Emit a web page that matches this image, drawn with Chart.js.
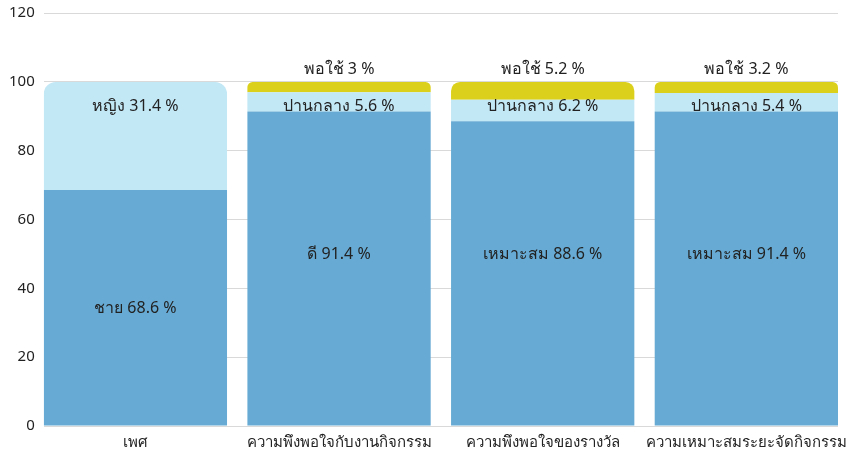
<!DOCTYPE html>
<html>
<head>
<meta charset="utf-8">
<script src="https://cdn.jsdelivr.net/npm/chart.js@4/dist/chart.umd.min.js"></script>
<style>
  html, body { margin: 0; padding: 0; background: #ffffff; }
  #wrap { width: 851px; height: 454px; }
</style>
</head>
<body>
<div id="wrap"><canvas id="canvas1"></canvas></div>
<script>
// Categories and series (percent)
const categories = ['เพศ', 'ความพึงพอใจกับงานกิจกรรม', 'ความพึงพอใจของรางวัล', 'ความเหมาะสมระยะจัดกิจกรรม']
const mainValues = [68.6, 91.4, 88.6, 91.4]
const middleValues = [31.4, 5.6, 6.2, 5.4]
const fairValues = [0, 3, 5.2, 3.2]
const mainNames = ['ชาย', 'ดี', 'เหมาะสม', 'เหมาะสม']
const middleNames = ['หญิง', 'ปานกลาง', 'ปานกลาง', 'ปานกลาง']
const fairNames = ['', 'พอใช้', 'พอใช้', 'พอใช้']
const yTicks = [0, 20, 40, 60, 80, 100, 120]

const fontFamily = "'Liberation Sans Narrow', 'Arial Narrow', 'Noto Sans', sans-serif"

function toPoints(values) {
    return values.map((v, i) => ({ x: i, y: v }))
}

// Draw the value labels inside / above each stack
const segmentLabels = {
    id: 'segmentLabels',
    afterDatasetsDraw(chart) {
        const ctx = chart.ctx
        const yScale = chart.scales.y
        ctx.save()
        ctx.font = '16px ' + fontFamily
        ctx.fillStyle = '#222222'
        ctx.textAlign = 'center'
        ctx.textBaseline = 'middle'
        categories.forEach((c, i) => {
            const total = mainValues[i] + middleValues[i] + fairValues[i]
            const x = chart.getDatasetMeta(0).data[i].x
            // main segment: middle of the stack when it fills most of it
            const mid = mainValues[i] > 80 ? total / 2 : mainValues[i] / 2
            let y = yScale.getPixelForValue(mid)
            ctx.fillText(mainNames[i] + ' ' + mainValues[i] + ' %', x, y)
            // middle segment
            y = yScale.getPixelForValue(total - 7)
            ctx.fillText(middleNames[i] + ' ' + middleValues[i] + ' %', x, y)
            // fair, above the bar
            if (fairValues[i] > 0) {
                y = yScale.getPixelForValue(total) - 13
                ctx.fillText(fairNames[i] + ' ' + fairValues[i] + ' %', x, y)
            }
        })
        ctx.restore()
    }
}

const common = {
    barPercentage: 0.9,
    categoryPercentage: 1,
    borderWidth: 0,
    borderRadius: 12
}

const config = {
    type: 'bar',
    data: {
        datasets: [
            Object.assign({ label: 'main', data: toPoints(mainValues), backgroundColor: '#67abd4' }, common),
            Object.assign({ label: 'middle', data: toPoints(middleValues), backgroundColor: '#c2e7f5' }, common),
            Object.assign({ label: 'fair', data: toPoints(fairValues), backgroundColor: '#dbd01b' }, common)
        ]
    },
    options: {
        responsive: true,
        maintainAspectRatio: false,
        animation: false,
        layout: {
            padding: { top: 0, right: 13, left: 0, bottom: 2 }
        },
        plugins: {
            legend: { display: false },
            tooltip: { enabled: false }
        },
        scales: {
            x: {
                type: 'linear',
                stacked: true,
                offset: false,
                min: -0.45,
                max: 3.45,
                grid: { display: false, offset: false },
                border: { display: false },
                afterBuildTicks: function(axis) {
                    axis.ticks = categories.map((c, i) => ({ value: i }))
                },
                ticks: {
                    autoSkip: false,
                    color: '#222222',
                    font: { size: 15, family: fontFamily },
                    padding: 0,
                    maxRotation: 0,
                    callback: function(value) {
                        return categories[value]
                    }
                }
            },
            y: {
                stacked: true,
                min: yTicks[0],
                max: yTicks[yTicks.length - 1],
                grid: { color: '#d9d9d9', drawTicks: false },
                border: { display: false },
                afterBuildTicks: function(axis) {
                    axis.ticks = yTicks.map(v => ({ value: v }))
                },
                ticks: {
                    color: '#222222',
                    padding: 9,
                    font: { size: 15, family: fontFamily, lineHeight: 0.55 }
                }
            }
        }
    },
    plugins: [segmentLabels]
}

new Chart(document.getElementById('canvas1').getContext('2d'), config)
</script>
</body>
</html>
